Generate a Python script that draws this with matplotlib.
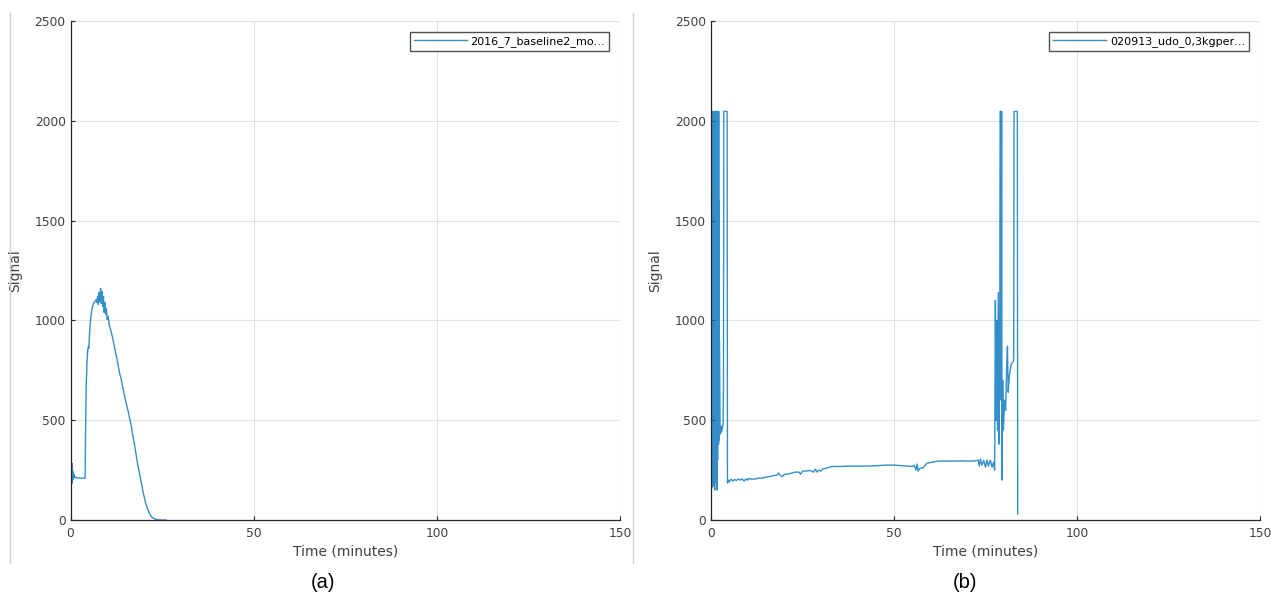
import matplotlib.pyplot as plt
from matplotlib.lines import Line2D

# run (a): baseline signal over time
time_a = [0.0, 0.05, 0.1, 0.15, 0.2, 0.25, 0.3, 0.35, 0.4, 0.45,
          0.5, 0.55, 0.6, 0.7, 0.8, 0.9, 1.0, 1.2, 1.5, 2.0,
          2.5, 3.0, 3.5, 3.9, 4.0, 4.1, 4.2, 4.3, 4.5, 4.7,
          4.9, 5.0, 5.1, 5.3, 5.5, 5.8, 6.1, 6.4, 6.7, 7.0,
          7.2, 7.4, 7.6, 7.8, 8.0, 8.2, 8.4, 8.6, 8.8, 9.0,
          9.2, 9.4, 9.6, 9.8, 10.0, 10.3, 10.6, 11.0, 11.4, 11.8,
          12.2, 12.6, 13.0, 13.4, 13.8, 14.2, 14.6, 15.0, 15.4, 15.8,
          16.2, 16.6, 17.0, 17.4, 17.8, 18.2, 18.6, 19.0, 19.4, 19.8,
          20.2, 20.6, 21.0, 21.4, 21.8, 22.2, 22.6, 23.0, 23.5, 24.0,
          24.5, 25.0, 25.5, 26.0]
signal_a = [110, 290, 140, 300, 120, 270, 180, 285, 200, 260,
            190, 250, 220, 240, 205, 230, 215, 218, 212, 210,
            211, 209, 210, 208, 215, 420, 560, 680, 790, 850,
            870, 860, 900, 960, 1010, 1050, 1075, 1090, 1095, 1105,
            1090, 1120, 1080, 1140, 1095, 1160, 1085, 1145, 1070, 1120,
            1040, 1090, 1030, 1060, 1005, 1020, 975, 950, 920, 885,
            850, 815, 775, 735, 710, 668, 635, 600, 570, 540,
            505, 470, 425, 385, 340, 295, 255, 215, 180, 140,
            110, 80, 58, 40, 25, 15, 9, 6, 3, 1,
            0, 0, 0, 0]

# run (b): noisy start, slow drift, then saturation bursts at the end
time_b = [0.0, 0.05, 0.1, 0.15, 0.2, 0.25, 0.3, 0.35, 0.4, 0.45,
          0.5, 0.55, 0.6, 0.65, 0.7, 0.75, 0.8, 0.85, 0.9, 0.95,
          1.0, 1.05, 1.1, 1.15, 1.2, 1.25, 1.3, 1.35, 1.4, 1.45,
          1.5, 1.55, 1.6, 1.65, 1.7, 1.75, 1.8, 1.85, 1.9, 1.95,
          2.0, 2.05, 2.1, 2.15, 2.2, 2.25, 2.3, 2.5, 2.7, 2.9,
          3.1, 3.3, 3.4, 3.5, 4.4, 4.5, 4.7, 5.0, 5.5, 6.0,
          6.5, 7.0, 7.5, 8.0, 8.5, 9.0, 9.5, 10.0, 10.2, 11.0,
          12.0, 13.0, 14.0, 15.0, 16.0, 17.0, 18.0, 18.5, 19.0, 19.5,
          20.0, 21.0, 22.0, 23.0, 24.0, 24.5, 25.0, 26.0, 27.0, 28.0,
          28.5, 29.0, 29.5, 30.0, 30.5, 31.0, 32.0, 33.0, 35.0, 38.0,
          40.0, 43.0, 45.0, 48.0, 50.0, 52.0, 54.0, 55.0, 55.5, 56.0,
          56.3, 56.6, 57.0, 58.0, 59.0, 60.0, 62.0, 65.0, 68.0, 70.0,
          72.0, 73.0, 73.3, 73.6, 74.0, 74.5, 75.0, 75.4, 75.8, 76.3,
          76.8, 77.2, 77.5, 77.7, 77.9, 78.1, 78.3, 78.5, 78.7, 78.9,
          79.0, 79.2, 79.3, 79.4, 79.5, 79.7, 79.9, 80.2, 80.5, 80.8,
          81.0, 81.2, 81.5, 82.0, 82.4, 82.7, 82.8, 83.7, 83.8]
signal_b = [300, 2047, 2047, 1300, 160, 1180, 2047, 350, 1520, 180,
            2047, 2047, 420, 1650, 170, 1900, 230, 2047, 300, 1400,
            150, 2047, 2047, 380, 1250, 190, 2047, 260, 1700, 210,
            2047, 2047, 350, 1450, 150, 2047, 300, 2047, 2047, 420,
            1200, 380, 2047, 450, 1600, 400, 900, 430, 470, 440,
            460, 480, 640, 2047, 2047, 185, 200, 190, 205, 195,
            203, 198, 205, 200, 206, 195, 205, 200, 208, 205,
            205, 210, 210, 215, 218, 222, 225, 235, 222, 218,
            228, 230, 235, 240, 240, 230, 245, 245, 248, 240,
            255, 240, 250, 245, 255, 258, 262, 268, 268, 270,
            270, 270, 272, 275, 275, 272, 270, 268, 275, 250,
            280, 245, 258, 262, 285, 288, 295, 295, 296, 295,
            296, 300, 270, 305, 275, 298, 265, 300, 270, 300,
            265, 290, 250, 1100, 500, 1000, 450, 1140, 380, 900,
            2047, 2047, 600, 2047, 200, 700, 450, 600, 550, 780,
            870, 640, 720, 780, 790, 800, 2047, 2047, 30]

x_ticks = [0, 50, 100, 150]
y_ticks = [0, 500, 1000, 1500, 2000, 2500]
legend_a = "2016_7_baseline2_mo\u2026"
legend_b = "020913_udo_0,3kgper\u2026"
panel_tags = ["(a)", "(b)"]

plt.rcParams["font.family"] = ["DejaVu Sans"]

line_color = "#0072BD"
text_color = "#404040"
axis_color = "#262626"


def style_axes(ax, label):
    ax.set_xlim(0, 150)
    ax.set_ylim(0, 2500)
    ax.set_xticks(x_ticks)
    ax.set_yticks(y_ticks)
    ax.grid(True, color="#e2e2e2", lw=0.8)
    ax.set_axisbelow(True)
    for side in ["top", "right"]:
        ax.spines[side].set_visible(False)
    for side in ["left", "bottom"]:
        ax.spines[side].set_color(axis_color)
        ax.spines[side].set_linewidth(0.9)
    ax.tick_params(direction="in", length=3, width=0.8, colors=axis_color,
                   labelsize=8.8, labelcolor=text_color)
    ax.tick_params(axis="x", pad=5)
    ax.set_xlabel("Time (minutes)", fontsize=10, color=text_color, labelpad=3)
    ax.set_ylabel("Signal", fontsize=10, color=text_color, labelpad=9)
    leg = ax.legend([label], loc="upper right", fontsize=8, fancybox=False,
                    handlelength=4.8, borderaxespad=1.0, borderpad=0.35,
                    handletextpad=0.3)
    leg.get_frame().set_edgecolor(axis_color)
    leg.get_frame().set_linewidth(1.0)


fig = plt.figure(figsize=(12.71, 6.02), dpi=100)
ax_a = fig.add_axes([70.5 / 1271, 82 / 602, 549.5 / 1271, 499 / 602])
ax_b = fig.add_axes([711 / 1271, 82 / 602, 549 / 1271, 499 / 602])

ax_a.plot(time_a, signal_a, color=line_color, lw=1.0, alpha=0.8)
ax_b.plot(time_b, signal_b, color=line_color, lw=1.0, alpha=0.8)

style_axes(ax_a, legend_a)
style_axes(ax_b, legend_b)

# thin frame lines separating the two screenshots
for xpix in [10, 633]:
    fig.add_artist(Line2D([xpix / 1271] * 2, [1 - 13 / 602, 1 - 563 / 602],
                          color="#d0d0d0", lw=1.0))

for tag, xpix in zip(panel_tags, [323, 965]):
    fig.text(xpix / 1271, 1 - 583 / 602, tag, ha="center", va="center",
             fontsize=14.5, family="Liberation Sans", color="black")

fig.savefig("out.png", dpi=100)
